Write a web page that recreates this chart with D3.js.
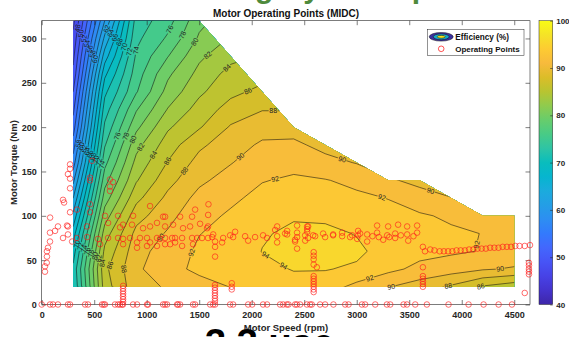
<!DOCTYPE html>
<html>
<head>
<meta charset="utf-8">
<script src="https://cdn.jsdelivr.net/npm/d3@7"></script>
<style>
  body { margin: 0; background: #fff; }
  svg { display: block; }
  text { font-family: "Liberation Sans", Arial, sans-serif; }
</style>
</head>
<body>
<script>
// grid of the efficiency map (rpm x Nm)
const speedGrid = [300, 600, 900, 1200, 1500, 1800, 2100, 2400, 2700, 3000, 3300, 3600, 3900, 4200, 4500];
const torqueGrid = [20, 40, 60, 80, 100, 120, 140, 160, 180, 200, 220, 240, 260, 280, 300, 320];

// efficiency (%) per speed column, from 20 Nm up to 320 Nm
const efficiency = [
  [70, 70.5, 69, 67, 64.5, 62, 59.5, 57, 55, 53, 51.5, 50, 48.5, 47.5, 46.5, 45.5],
  [85, 85.5, 84.5, 83, 81, 79, 77.2, 75.4, 73.8, 72.4, 71, 69.5, 67.5, 65, 62.5, 60],
  [89.3, 89.6, 89.2, 88.6, 87.2, 85.4, 83.8, 82.6, 81.3, 79.5, 77.8, 75.8, 75, 74.3, 73.5, 72.8],
  [90.2, 91.4, 91, 90.2, 89.4, 88.5, 87.3, 86.1, 85, 83.7, 82.1, 80.7, 79.6, 77.9, 76.3, 75.2],
  [91.3, 92.4, 92.3, 91.95, 91.3, 90.6, 89.6, 88.7, 87.6, 85.8, 84.8, 83.6, 82.6, 81.6, 80.3, 79.4],
  [92.05, 92.4, 92.6, 92.6, 92.3, 91.6, 90.8, 89.9, 89.1, 88.2, 86.8, 85.5, 84.7, 83.4, 82.2, 81.2],
  [92.6, 93.5, 94.05, 93.8, 93.2, 92.6, 91.9, 91.1, 90.3, 89.2, 87.9, 86.5, 85.3, 84.2, 83.2, 82.3],
  [93.3, 94.1, 94.8, 94.4, 93.8, 93.1, 92.3, 91.4, 90.4, 89.2, 87.9, 87, 86, 85, 84, 83],
  [93, 94.1, 95, 94.5, 93.6, 92.9, 92.1, 90.6, 89.4, 88.4, 87.4, 86.4, 85.4, 84.4, 83.4, 82.4],
  [91.4, 93.7, 94.4, 93.9, 93.2, 92.4, 91.5, 89.9, 88.9, 88, 87, 86, 85, 84, 83, 82],
  [90.1, 92.5, 93.2, 93, 92.6, 91.95, 90.2, 89.2, 88.4, 87.6, 86.8, 86, 85.2, 84.4, 83.6, 82.8],
  [89, 91.5, 92.6, 92.6, 92.3, 90.6, 89.6, 88.8, 88, 87.2, 86.4, 85.6, 84.8, 84, 83.2, 82.4],
  [87.7, 90.9, 92.3, 92.4, 91.6, 90.05, 89, 88.2, 87.5, 86.8, 86, 85.2, 84.4, 83.6, 82.8, 82],
  [85.8, 90.2, 91.9, 91.95, 91.2, 90, 89.2, 88.4, 87.6, 86.8, 86, 85.2, 84.4, 83.6, 82.8, 82],
  [84.8, 89.8, 91.3, 91.5, 91, 90.2, 89.4, 88.6, 87.8, 87, 86.2, 85.4, 84.6, 83.8, 83, 82.2]
];

// outline of the valid map region [rpm, Nm]
const boundary = [[300, 20], [300, 320], [1500, 320], [2400, 200], [3300, 140], [3600, 140],
  [4200, 100], [4500, 100], [4500, 20]];

// contour labels [level, rpm, Nm]
const labelSpots = [
  [74, 936, 286], [76, 1224, 310], [76, 718, 190], [78, 1338, 304], [78, 795, 190],
  [80, 1460, 296], [80, 872, 186], [82, 1575, 282], [82, 937, 178],
  [84, 1747, 269], [84, 1061, 169], [84, 556, 47],
  [86, 1956, 243], [86, 1193, 162], [86, 633, 45], [86, 4176, 22],
  [88, 2204, 215], [88, 1365, 150], [88, 775, 40], [88, 3862, 26],
  [90, 1890, 167], [90, 1143, 75], [90, 2862, 164], [90, 3700, 127], [90, 3318, 22], [90, 4367, 40],
  [92, 2223, 142], [92, 1413, 59], [92, 3242, 122], [92, 4128, 68], [92, 3128, 28],
  [94, 2128, 55], [94, 2270, 37]
];
// crowded labels near the left edge
const labelClusters = [
  { levels: [48, 50, 52, 54, 56, 58, 60], from: [320, 312], to: [540, 276] },
  { levels: [62, 64, 66, 68, 70, 72], from: [590, 312], to: [870, 284] },
  { levels: [58, 60, 62, 64, 66, 68, 70, 72, 74], from: [330, 182], to: [560, 158] },
  { levels: [70, 72, 74, 76, 78, 80, 82], from: [340, 68], to: [540, 52] }
];

// operating points
const idleSpeeds = [0, 79, 108, 155, 250, 270, 413, 441, 574, 590, 603, 698, 727, 746, 765, 774, 870, 908,
  1003, 1013, 1156, 1175, 1194, 1289, 1299, 1318, 1441, 1461, 1604, 1632, 1651, 1794, 1823, 1966, 2004,
  2108, 2146, 2270, 2299, 2334, 2350, 2413, 2430, 2461, 2525, 2556, 2572, 2651, 2699, 2778, 2890, 2922,
  3049, 3080, 3176, 3287, 3319, 3446, 3478, 3557, 3668, 3874, 4065, 4208, 4351, 4478];
const stackPoints = [[775, 3], [775, 6], [775, 9], [775, 12], [775, 15], [775, 18], [775, 21],
  [1650, 4], [1650, 7], [1650, 10], [1650, 13], [1650, 16], [1650, 19], [1650, 22],
  [1810, 17], [1810, 20], [1810, 24],
  [2590, 14], [2590, 17], [2590, 20], [2590, 23], [2590, 26], [2590, 29], [2590, 32],
  [3630, 20], [3630, 23], [3630, 26], [3630, 29], [3630, 32], [3630, 42],
  [4640, 34], [4640, 37], [4640, 40], [4640, 44], [4640, 47], [4600, 13]];
const lowSpeedPoints = [[31, 37], [31, 43], [48, 47], [50, 54], [50, 60], [60, 64], [79, 71], [79, 81],
  [127, 83], [155, 88], [250, 88], [250, 79], [203, 75], [290, 71], [80, 98], [270, 104], [213, 115],
  [203, 118], [270, 131], [270, 142], [250, 147], [270, 153], [270, 158], [336, 107], [460, 113],
  [460, 104], [460, 143], [460, 140], [480, 162], [650, 141], [680, 138], [650, 133], [650, 128]];
const cruisePoints = [[603, 100], [727, 100], [870, 100], [1032, 111], [1156, 99], [1175, 99], [1318, 99],
  [1432, 99], [1461, 107], [1585, 101], [1588, 113],
  [336, 75], [432, 76], [536, 74], [632, 75], [727, 75], [775, 74], [841, 75], [936, 75], [1003, 75],
  [1098, 75], [1127, 74], [1175, 75], [1242, 75], [1270, 75], [1337, 75], [1432, 75], [1480, 75],
  [1527, 75], [1584, 75],
  [241, 89], [432, 88], [632, 92], [746, 87], [775, 90], [860, 90], [965, 86], [1032, 88], [1098, 92],
  [1175, 88], [1251, 90], [1346, 86], [1413, 88], [1508, 91], [1584, 88],
  [556, 68], [775, 68], [908, 70], [908, 64], [1003, 66], [1032, 70], [1098, 66], [1175, 68],
  [1223, 68], [1270, 70], [1337, 66], [1441, 68],
  [1623, 76], [1633, 79], [1728, 75], [1794, 78], [1823, 76], [1937, 77], [2032, 76], [2108, 78],
  [2146, 75], [2242, 77], [2337, 79], [2432, 76], [2509, 78], [2537, 75], [2604, 77], [2699, 76],
  [2775, 78], [2861, 77], [2937, 76], [3013, 78],
  [1575, 86], [1842, 82], [2223, 84], [2242, 88], [2337, 83], [2528, 85], [2537, 88], [3013, 83],
  [1651, 71], [1718, 70], [1966, 72], [2242, 70], [2413, 71], [1651, 65], [2432, 63], [1651, 54],
  [2590, 59], [2590, 55], [2590, 51], [2590, 45], [2620, 42],
  [2318, 80], [2432, 81], [2528, 82], [2585, 78], [2680, 80], [2775, 79], [2861, 81], [2956, 78],
  [3032, 80], [3099, 79], [3194, 81], [3290, 78], [3366, 80], [3480, 79], [3575, 81],
  [2413, 73], [2509, 72], [3004, 74], [3099, 71], [3252, 73], [3366, 75], [3490, 72],
  [2432, 89], [2528, 88], [3194, 89], [3299, 88], [3394, 90], [3480, 88], [3575, 89],
  [3150, 77], [3210, 76], [3310, 76], [3420, 78], [3540, 77]];
const highSpeedSpeeds = [3630, 3650, 3700, 3740, 3790, 3830, 3870, 3910, 3950, 3990, 4030, 4070, 4110,
  4150, 4190, 4230, 4270, 4310, 4350, 4390, 4430, 4470, 4510, 4550, 4600, 4650];
const highSpeedTorques = [65, 60, 62, 61, 60, 60, 60, 60, 61, 61, 61, 62, 62, 63, 63, 63, 64, 64, 64,
  65, 65, 65, 66, 66, 66, 67];

const xTicks = [0, 500, 1000, 1500, 2000, 2500, 3000, 3500, 4000, 4500];
const yTicks = [0, 50, 100, 150, 200, 250, 300];
const cbarTicks = [40, 50, 60, 70, 80, 90, 100];

// parula colormap stops
const parula = ['#3E26A8', '#4433CD', '#4742E6', '#4754F6', '#4367FD', '#337AFD', '#2D8EF2', '#249EE6',
  '#1BABDD', '#06B5CF', '#09BDBD', '#2EC4A5', '#48CB86', '#67CD6C', '#8FCB4E', '#B8C431', '#DBBD28',
  '#F7BA3C', '#FDCB32', '#F5E327', '#F9FB15'];

const W = 569, H = 337;
const svg = d3.select('body').append('svg').attr('width', W).attr('height', H);

const x = d3.scaleLinear().domain([0, 4650]).range([41.7, 530]);
const y = d3.scaleLinear().domain([0, 320]).range([304.5, 20.7]);
const cmap = d3.scaleLinear().domain(parula.map((_, i) => 40 + i * 3)).range(parula).clamp(true);

// page fragments around the figure
svg.append('text').attr('x', 300).attr('y', -2).attr('text-anchor', 'middle')
  .style('font-size', '30px').style('font-weight', 'bold').attr('fill', '#4f8a3c')
  .text('Driving Cycle Map');

// contours on the grid
const nx = speedGrid.length, ny = torqueGrid.length;
const values = [];
for (let j = 0; j < ny; j++) for (let i = 0; i < nx; i++) values.push(efficiency[i][j]);
const levels = d3.range(44, 97, 2);
const contours = d3.contours().size([nx, ny]).thresholds(levels)(values);

const gxSpeed = d3.scaleLinear().domain([0.5, nx - 0.5]).range([speedGrid[0], speedGrid[nx - 1]]);
const gyTorque = d3.scaleLinear().domain([0.5, ny - 0.5]).range([torqueGrid[0], torqueGrid[ny - 1]]);
const toPx = ([gx, gy]) => [x(gxSpeed(gx)), y(gyTorque(gy))];
const path = d3.geoPath(d3.geoTransform({
  point(px, py) { const p = toPx([px, py]); this.stream.point(p[0], p[1]); }
}));

const clipPx = boundary.map(([s, t]) => [x(s), y(t)]);
const defs = svg.append('defs');
defs.append('clipPath').attr('id', 'mapClip')
  .append('polygon').attr('points', clipPx.map(p => p.join(',')).join(' '));

svg.append('g').attr('clip-path', 'url(#mapClip)')
  .selectAll('path').data(contours).join('path')
  .attr('d', path).attr('fill', d => cmap(d.value + 1.5)).attr('stroke', 'none');

// isoline segments inside the map, in pixels
function isoSegments(level) {
  const c = contours.find(d => d.value === level);
  const segs = [];
  c.coordinates.forEach(poly => poly.forEach(ring => {
    const pts = ring.map(toPx);
    for (let k = 1; k < pts.length; k++) {
      const a = pts[k - 1], b = pts[k];
      if (d3.polygonContains(clipPx, [(a[0] + b[0]) / 2, (a[1] + b[1]) / 2])) segs.push([a, b]);
    }
  }));
  return segs;
}
function snap(level, p) {
  let best = null;
  isoSegments(level).forEach(([a, b]) => {
    const dx = b[0] - a[0], dy = b[1] - a[1];
    const len2 = dx * dx + dy * dy || 1;
    const u = Math.max(0, Math.min(1, ((p[0] - a[0]) * dx + (p[1] - a[1]) * dy) / len2));
    const q = [a[0] + u * dx, a[1] + u * dy];
    const dist = Math.hypot(q[0] - p[0], q[1] - p[1]);
    if (!best || dist < best.dist) {
      let ang = Math.atan2(dy, dx) * 180 / Math.PI;
      if (ang > 90) ang -= 180;
      if (ang < -90) ang += 180;
      best = { q, ang, dist };
    }
  });
  return best;
}

const labels = [];
labelSpots.forEach(([lv, s, t]) => {
  const b = snap(lv, [x(s), y(t)]);
  if (b) labels.push({ lv, ...b });
});
labelClusters.forEach(c => {
  const n = c.levels.length;
  c.levels.forEach((lv, k) => {
    const f = n > 1 ? k / (n - 1) : 0;
    const s = c.from[0] + (c.to[0] - c.from[0]) * f;
    const t = c.from[1] + (c.to[1] - c.from[1]) * f;
    const b = snap(lv, [x(s), y(t)]);
    if (b) labels.push({ lv, ...b });
  });
});

const labelFont = 7;
const mask = defs.append('mask').attr('id', 'lineMask')
  .attr('maskUnits', 'userSpaceOnUse').attr('x', 0).attr('y', 0).attr('width', W).attr('height', H);
mask.append('rect').attr('width', W).attr('height', H).attr('fill', '#fff');
mask.selectAll('rect.gap').data(labels).join('rect').attr('class', 'gap')
  .attr('x', -4.5).attr('y', -3).attr('width', 9).attr('height', 6).attr('fill', '#000')
  .attr('transform', d => `translate(${d.q[0]},${d.q[1]}) rotate(${d.ang})`);

svg.append('g').attr('clip-path', 'url(#mapClip)')
  .append('g').attr('mask', 'url(#lineMask)')
  .selectAll('path').data(contours).join('path')
  .attr('d', path).attr('fill', 'none').attr('stroke', '#111').attr('stroke-width', 0.55);

svg.append('g').selectAll('text').data(labels).join('text')
  .attr('transform', d => `translate(${d.q[0]},${d.q[1]}) rotate(${d.ang})`)
  .attr('text-anchor', 'middle').attr('dy', '0.35em')
  .style('font-size', labelFont + 'px').attr('fill', '#222')
  .text(d => d.lv);

// axes (box with inward ticks)
function styleAxis(g, size) {
  g.select('.domain').remove();
  g.selectAll('.tick line').attr('stroke', '#262626').attr('stroke-width', 0.6);
  g.selectAll('.tick text').attr('fill', '#262626')
    .style('font-size', (size || 9) + 'px').style('font-weight', 'bold')
    .style('font-family', '"Liberation Sans", Arial, sans-serif');
}
svg.append('g').attr('transform', `translate(0,${y(0)})`)
  .call(d3.axisBottom(x).tickValues(xTicks).tickFormat(d3.format('d'))
    .tickSizeInner(-4.5).tickSizeOuter(0).tickPadding(7))
  .call(styleAxis);
svg.append('g').attr('transform', `translate(0,${y(320)})`)
  .call(d3.axisTop(x).tickValues(xTicks).tickSizeInner(-4.5).tickSizeOuter(0).tickFormat(() => ''))
  .call(styleAxis);
svg.append('g').attr('transform', `translate(${x(0)},0)`)
  .call(d3.axisLeft(y).tickValues(yTicks).tickSizeInner(-4.5).tickSizeOuter(0).tickPadding(5))
  .call(styleAxis);
svg.append('g').attr('transform', `translate(${x(4650)},0)`)
  .call(d3.axisRight(y).tickValues(yTicks).tickSizeInner(-4.5).tickSizeOuter(0).tickFormat(() => ''))
  .call(styleAxis);
svg.append('rect').attr('x', x(0)).attr('y', y(320))
  .attr('width', x(4650) - x(0)).attr('height', y(0) - y(320))
  .attr('fill', 'none').attr('stroke', '#262626').attr('stroke-width', 0.6);

// operating points
const allPoints = [].concat(
  idleSpeeds.map(s => [s, 0]),
  stackPoints, lowSpeedPoints, cruisePoints,
  highSpeedSpeeds.map((s, i) => [s, highSpeedTorques[i]])
);
svg.append('g').selectAll('circle').data(allPoints).join('circle')
  .attr('cx', d => x(d[0])).attr('cy', d => y(d[1])).attr('r', 2.8)
  .attr('fill', 'none').attr('stroke', '#ff1a1a').attr('stroke-width', 0.75).attr('stroke-opacity', 0.85);

// titles
svg.append('text').attr('x', 286).attr('y', 16.5).attr('text-anchor', 'middle')
  .style('font-size', '10px').style('font-weight', 'bold').attr('fill', '#111')
  .text('Motor Operating Points (MIDC)');
svg.append('text').attr('x', 286).attr('y', 331).attr('text-anchor', 'middle')
  .style('font-size', '9.5px').style('font-weight', 'bold').attr('fill', '#262626')
  .text('Motor Speed (rpm)');
svg.append('text').attr('transform', `translate(17,${(y(0) + y(320)) / 2}) rotate(-90)`)
  .attr('text-anchor', 'middle')
  .style('font-size', '9.5px').style('font-weight', 'bold').attr('fill', '#262626')
  .text('Motor Torque (Nm)');

// top of the next page heading, cut by the bottom edge
svg.append('text').attr('x', 205).attr('y', 356)
  .style('font-size', '38px').style('font-weight', 'bold').attr('fill', '#000')
  .text('3.3 use');

// legend
const lg = svg.append('g').attr('transform', 'translate(427.7,29.3)');
lg.append('rect').attr('width', 96.3).attr('height', 26.2)
  .attr('fill', '#fff').attr('stroke', '#262626').attr('stroke-width', 0.5);
[[12, 4.3, '#3b2fa0'], [8, 2.9, '#17a8c4'], [4, 1.4, '#f2e31b']].forEach(([rx, ry, c]) => {
  lg.append('ellipse').attr('cx', 13.5).attr('cy', 7.5).attr('rx', rx).attr('ry', ry)
    .attr('fill', c).attr('stroke', '#111').attr('stroke-width', 0.5);
});
lg.append('circle').attr('cx', 13.5).attr('cy', 19.5).attr('r', 2.8)
  .attr('fill', 'none').attr('stroke', '#ff1a1a').attr('stroke-width', 0.75);
lg.append('text').attr('x', 27.5).attr('y', 10.3)
  .style('font-size', '8.2px').style('font-weight', 'bold').attr('fill', '#111').text('Efficiency (%)');
lg.append('text').attr('x', 27.5).attr('y', 22.3)
  .style('font-size', '8px').style('font-weight', 'bold').attr('fill', '#111').text('Operating Points');

// colorbar
const cy = d3.scaleLinear().domain([40, 100]).range([y(0), y(320)]);
const grad = defs.append('linearGradient').attr('id', 'cbarGrad')
  .attr('x1', 0).attr('y1', 1).attr('x2', 0).attr('y2', 0);
grad.selectAll('stop').data(parula).join('stop')
  .attr('offset', (d, i) => i / (parula.length - 1)).attr('stop-color', d => d);
svg.append('rect').attr('x', 539).attr('y', cy(100)).attr('width', 13.7).attr('height', cy(40) - cy(100))
  .attr('fill', 'url(#cbarGrad)').attr('stroke', '#262626').attr('stroke-width', 0.5);
svg.append('g').attr('transform', 'translate(552.7,0)')
  .call(d3.axisRight(cy).tickValues(cbarTicks).tickSizeInner(-2.5).tickSizeOuter(0).tickPadding(3.5))
  .call(g => styleAxis(g, 8));
</script>
</body>
</html>
